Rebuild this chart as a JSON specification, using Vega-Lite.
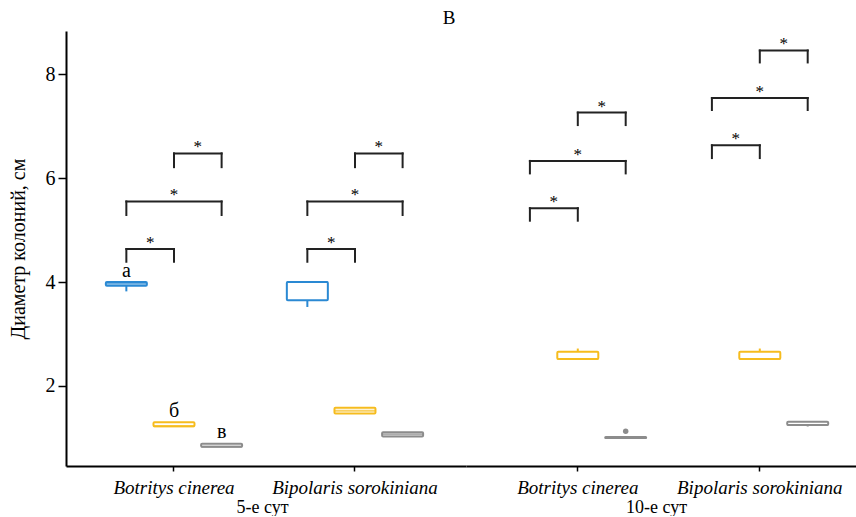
{
  "$schema": "https://vega.github.io/schema/vega-lite/v6.json",
  "padding": {"left": 8, "right": 0, "top": 9, "bottom": 0},
  "autosize": {"type": "pad"},
  "background": "white",
  "title": {"text": "В", "font": "Liberation Serif", "fontSize": 19, "fontWeight": "normal", "color": "black", "anchor": "middle", "dx": 17, "offset": 3},
  "config": {
    "view": {"stroke": null},
    "style": {"guide-label": {"font": "Liberation Serif", "fill": "black"}, "guide-title": {"font": "Liberation Serif", "fill": "black"}},
    "axis": {"grid": false, "domainColor": "black", "domainWidth": 2, "tickColor": "black", "tickWidth": 1.5, "labelColor": "black", "titleColor": "black", "labelFont": "Liberation Serif", "titleFont": "Liberation Serif", "titleFontWeight": "normal"}
  },
  "datasets": {
    "boxes5": [
      {"species": "Botritys cinerea", "t": 1, "lower": 3.82, "q1": 3.93, "median": 3.965, "q3": 4.0, "upper": 4.0, "letter": "а"},
      {"species": "Botritys cinerea", "t": 2, "lower": 1.225, "q1": 1.225, "median": 1.225, "q3": 1.3, "upper": 1.3, "letter": "б"},
      {"species": "Botritys cinerea", "t": 3, "lower": 0.83, "q1": 0.83, "median": 0.83, "q3": 0.89, "upper": 0.9, "letter": "в"},
      {"species": "Bipolaris sorokiniana", "t": 1, "lower": 3.52, "q1": 3.65, "median": 4.0, "q3": 4.0, "upper": 4.0, "letter": ""},
      {"species": "Bipolaris sorokiniana", "t": 2, "lower": 1.47, "q1": 1.47, "median": 1.525, "q3": 1.58, "upper": 1.58, "letter": ""},
      {"species": "Bipolaris sorokiniana", "t": 3, "lower": 1.03, "q1": 1.03, "median": 1.07, "q3": 1.11, "upper": 1.11, "letter": ""}
    ],
    "boxes10": [
      {"species": "Botritys cinerea", "t": 2, "lower": 2.52, "q1": 2.52, "median": 2.52, "q3": 2.66, "upper": 2.72, "letter": ""},
      {"species": "Botritys cinerea", "t": 3, "lower": 1.0, "q1": 1.0, "median": 1.0, "q3": 1.02, "upper": 1.02, "letter": ""},
      {"species": "Bipolaris sorokiniana", "t": 2, "lower": 2.52, "q1": 2.52, "median": 2.52, "q3": 2.66, "upper": 2.72, "letter": ""},
      {"species": "Bipolaris sorokiniana", "t": 3, "lower": 1.22, "q1": 1.25, "median": 1.25, "q3": 1.31, "upper": 1.31, "letter": ""}
    ],
    "outliers10": [
      {"species": "Botritys cinerea", "t": 3, "value": 1.13}
    ],
    "brackets5": [
      {"species": "Botritys cinerea", "id": "a", "from": 1, "to": 2, "top": 4.635, "bottom": 4.39},
      {"species": "Botritys cinerea", "id": "b", "from": 1, "to": 3, "top": 5.55, "bottom": 5.29},
      {"species": "Botritys cinerea", "id": "c", "from": 2, "to": 3, "top": 6.475, "bottom": 6.21},
      {"species": "Bipolaris sorokiniana", "id": "d", "from": 1, "to": 2, "top": 4.635, "bottom": 4.39},
      {"species": "Bipolaris sorokiniana", "id": "e", "from": 1, "to": 3, "top": 5.55, "bottom": 5.29},
      {"species": "Bipolaris sorokiniana", "id": "f", "from": 2, "to": 3, "top": 6.475, "bottom": 6.21}
    ],
    "brackets10": [
      {"species": "Botritys cinerea", "id": "a", "from": 1, "to": 2, "top": 5.42, "bottom": 5.18},
      {"species": "Botritys cinerea", "id": "b", "from": 1, "to": 3, "top": 6.33, "bottom": 6.09},
      {"species": "Botritys cinerea", "id": "c", "from": 2, "to": 3, "top": 7.26, "bottom": 7.02},
      {"species": "Bipolaris sorokiniana", "id": "d", "from": 1, "to": 2, "top": 6.63, "bottom": 6.385},
      {"species": "Bipolaris sorokiniana", "id": "e", "from": 1, "to": 3, "top": 7.54, "bottom": 7.31},
      {"species": "Bipolaris sorokiniana", "id": "f", "from": 2, "to": 3, "top": 8.455, "bottom": 8.225}
    ]
  },
  "spacing": 0,
  "resolve": {"scale": {"x": "independent", "xOffset": "independent", "y": "shared", "color": "shared", "stroke": "shared"}, "axis": {"y": "independent"}},
  "hconcat": [
    {
      "width": 400,
      "height": 435,
      "encoding": {
        "x": {"field": "species", "type": "nominal", "sort": null,
          "scale": {"domain": ["Botritys cinerea", "Bipolaris sorokiniana"], "paddingInner": 0, "paddingOuter": 0.105, "align": 0.46},
          "axis": {"title": "5-е сут", "labelAngle": 0, "labelFont": "Liberation Serif", "labelFontStyle": "italic", "labelFontSize": 19, "titleFont": "Liberation Serif", "titleFontSize": 18, "titleX": 196, "tickSize": 5, "labelPadding": 7, "titlePadding": 1}},
        "y": {"type": "quantitative", "scale": {"domain": [0.46, 8.83], "nice": false, "zero": false},
          "axis": {"title": "Диаметр колоний, см", "values": [2, 4, 6, 8], "labelFont": "Liberation Serif", "labelFontSize": 20, "titleFont": "Liberation Serif", "titleFontSize": 20, "tickSize": 8, "labelPadding": 3, "titlePadding": 17}}
      },
      "layer": [
        {"data": {"name": "boxes5"}, "mark": {"type": "rule", "strokeWidth": 2},
          "encoding": {"xOffset": {"field": "t", "type": "quantitative", "scale": {"domain": [0.1, 3.9], "nice": false, "zero": false}},
            "y": {"field": "lower", "type": "quantitative"}, "y2": {"field": "upper"},
            "color": {"field": "t", "type": "nominal", "scale": {"domain": [1, 2, 3], "range": ["#2b89d3", "#f6bc1e", "#8c8c8c"]}, "legend": null}}},
        {"data": {"name": "boxes5"}, "mark": {"type": "bar", "size": 41, "fill": "white", "strokeWidth": 2, "cornerRadius": 1},
          "encoding": {"xOffset": {"field": "t", "type": "quantitative"},
            "y": {"field": "q1", "type": "quantitative"}, "y2": {"field": "q3"},
            "stroke": {"field": "t", "type": "nominal", "scale": {"domain": [1, 2, 3], "range": ["#2b89d3", "#f6bc1e", "#8c8c8c"]}, "legend": null}}},
        {"data": {"name": "boxes5"}, "mark": {"type": "tick", "size": 41, "thickness": 2},
          "encoding": {"xOffset": {"field": "t", "type": "quantitative"},
            "y": {"field": "median", "type": "quantitative"},
            "color": {"field": "t", "type": "nominal", "legend": null}}},
        {"data": {"name": "boxes5"}, "mark": {"type": "text", "font": "Liberation Serif", "fontSize": 20, "baseline": "alphabetic", "dy": -5, "fill": "black"},
          "encoding": {"xOffset": {"field": "t", "type": "quantitative"},
            "y": {"field": "upper", "type": "quantitative"}, "text": {"field": "letter"}}},
        {"data": {"name": "brackets5"}, "transform": [{"fold": ["from", "to"], "as": ["end", "pos"]}],
          "mark": {"type": "rule", "strokeWidth": 2, "color": "#222222", "strokeCap": "square"},
          "encoding": {"xOffset": {"field": "pos", "type": "quantitative"},
            "y": {"field": "top", "type": "quantitative"}, "y2": {"field": "bottom"}}},
        {"data": {"name": "brackets5"}, "transform": [{"fold": ["from", "to"], "as": ["end", "pos"]}],
          "mark": {"type": "line", "strokeWidth": 2, "color": "#222222", "strokeCap": "square"},
          "encoding": {"xOffset": {"field": "pos", "type": "quantitative"},
            "y": {"field": "top", "type": "quantitative"}, "detail": {"field": "id"}}},
        {"data": {"name": "brackets5"}, "transform": [{"fold": ["from", "to"], "as": ["end", "pos"]}],
          "mark": {"type": "text", "text": "*", "font": "Liberation Serif", "fontSize": 17, "baseline": "alphabetic", "dy": -1, "fill": "black"},
          "encoding": {"xOffset": {"field": "pos", "type": "quantitative", "aggregate": "mean"},
            "y": {"field": "top", "type": "quantitative", "aggregate": "max"}, "detail": {"field": "id"}}}
      ]
    },
    {
      "width": 390,
      "height": 435,
      "encoding": {
        "x": {"field": "species", "type": "nominal", "sort": null,
          "scale": {"domain": ["Botritys cinerea", "Bipolaris sorokiniana"], "paddingInner": 0, "paddingOuter": 0.0714, "align": 0.8},
          "axis": {"title": "10-е сут", "labelAngle": 0, "labelFont": "Liberation Serif", "labelFontStyle": "italic", "labelFontSize": 19, "titleFont": "Liberation Serif", "titleFontSize": 18, "titleX": 190, "tickSize": 5, "labelPadding": 7, "titlePadding": 1}},
        "y": {"type": "quantitative", "scale": {"domain": [0.46, 8.83], "nice": false, "zero": false}, "axis": null}
      },
      "layer": [
        {"data": {"name": "boxes10"}, "mark": {"type": "rule", "strokeWidth": 2},
          "encoding": {"xOffset": {"field": "t", "type": "quantitative", "scale": {"domain": [0.1, 3.9], "nice": false, "zero": false}},
            "y": {"field": "lower", "type": "quantitative"}, "y2": {"field": "upper"},
            "color": {"field": "t", "type": "nominal", "legend": null}}},
        {"data": {"name": "boxes10"}, "mark": {"type": "bar", "size": 41, "fill": "white", "strokeWidth": 2, "cornerRadius": 1},
          "encoding": {"xOffset": {"field": "t", "type": "quantitative"},
            "y": {"field": "q1", "type": "quantitative"}, "y2": {"field": "q3"},
            "stroke": {"field": "t", "type": "nominal", "scale": {"domain": [1, 2, 3], "range": ["#2b89d3", "#f6bc1e", "#8c8c8c"]}, "legend": null}}},
        {"data": {"name": "boxes10"}, "mark": {"type": "tick", "size": 41, "thickness": 2},
          "encoding": {"xOffset": {"field": "t", "type": "quantitative"},
            "y": {"field": "median", "type": "quantitative"},
            "color": {"field": "t", "type": "nominal", "legend": null}}},
        {"data": {"name": "outliers10"}, "mark": {"type": "point", "filled": true, "size": 30, "opacity": 1},
          "encoding": {"xOffset": {"field": "t", "type": "quantitative"},
            "y": {"field": "value", "type": "quantitative"},
            "color": {"field": "t", "type": "nominal", "legend": null}}},
        {"data": {"name": "brackets10"}, "transform": [{"fold": ["from", "to"], "as": ["end", "pos"]}],
          "mark": {"type": "rule", "strokeWidth": 2, "color": "#222222", "strokeCap": "square"},
          "encoding": {"xOffset": {"field": "pos", "type": "quantitative"},
            "y": {"field": "top", "type": "quantitative"}, "y2": {"field": "bottom"}}},
        {"data": {"name": "brackets10"}, "transform": [{"fold": ["from", "to"], "as": ["end", "pos"]}],
          "mark": {"type": "line", "strokeWidth": 2, "color": "#222222", "strokeCap": "square"},
          "encoding": {"xOffset": {"field": "pos", "type": "quantitative"},
            "y": {"field": "top", "type": "quantitative"}, "detail": {"field": "id"}}},
        {"data": {"name": "brackets10"}, "transform": [{"fold": ["from", "to"], "as": ["end", "pos"]}],
          "mark": {"type": "text", "text": "*", "font": "Liberation Serif", "fontSize": 17, "baseline": "alphabetic", "dy": -1, "fill": "black"},
          "encoding": {"xOffset": {"field": "pos", "type": "quantitative", "aggregate": "mean"},
            "y": {"field": "top", "type": "quantitative", "aggregate": "max"}, "detail": {"field": "id"}}}
      ]
    }
  ]
}
